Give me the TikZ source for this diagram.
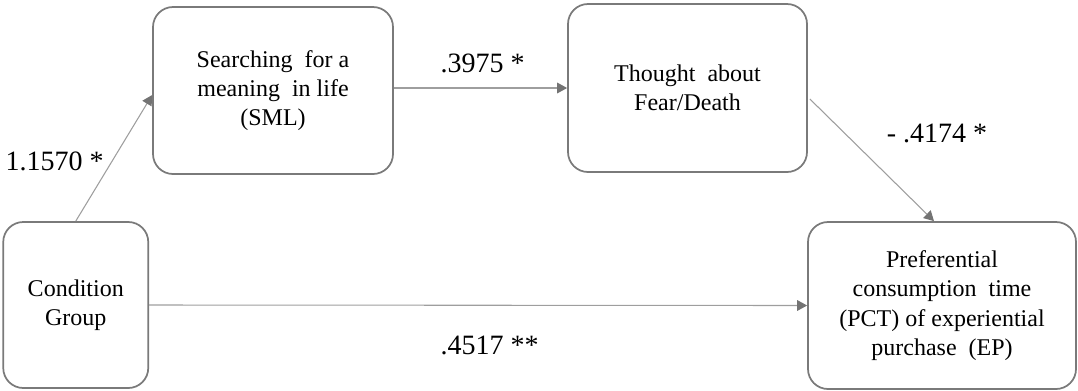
\documentclass[tikz,border=0pt]{standalone}
\usepackage{fontspec}
\setmainfont{Liberation Serif}
\usetikzlibrary{arrows.meta}

\begin{document}
\begin{tikzpicture}[x=0.75pt,y=-0.75pt]
\tikzstyle{main}=[rectangle, rounded corners=15pt, draw=black!52, line width=1.3pt, align=center, inner sep=0pt, font=\fontsize{18}{22}\selectfont]
\tikzstyle{connect}=[-{Triangle[length=7.5pt,width=8pt,color=black!55]}, draw=black!38, line width=0.8pt]
\tikzstyle{coef}=[inner sep=0pt, font=\fontsize{21}{25}\selectfont]
\useasboundingbox (0,0) rectangle (1078,390);
\node[main, minimum width=108.75pt, minimum height=124.5pt] (cond) at (75.75,305) {Condition\\Group};
\node[main, minimum width=180pt, minimum height=125.25pt] (sml) at (273,90.5) {Searching\ \ for\ a\\meaning\ \ in life\\(SML)};
\node[main, minimum width=179.25pt, minimum height=126pt] (fear) at (687.5,88) {Thought\ \ about\\Fear/Death};
\node[main, minimum width=201pt, minimum height=125.25pt] (pct) at (942,305.5) {Preferential\\consumption\ \ time\\(PCT) of experiential\\purchase\ \ (EP)};
  \path (cond.north) edge [connect] ([yshift=-3.4pt]sml.west)
  	(sml.east |- fear.west) edge [connect] (fear.west)
  	([shift={(2,11)}]fear.east) edge [connect] ([xshift=-6pt]pct.north)
  	(cond.east) edge [connect] (pct.west);
\node[coef] (b1) at (54.5,161.5) {1.1570 *};
\node[coef] (b2) at (482.5,63.5) {.3975 *};
\node[coef] (b3) at (937,133) {- .4174 *};
\node[coef] (b4) at (489.5,345) {.4517 **};
\end{tikzpicture}
\end{document}
